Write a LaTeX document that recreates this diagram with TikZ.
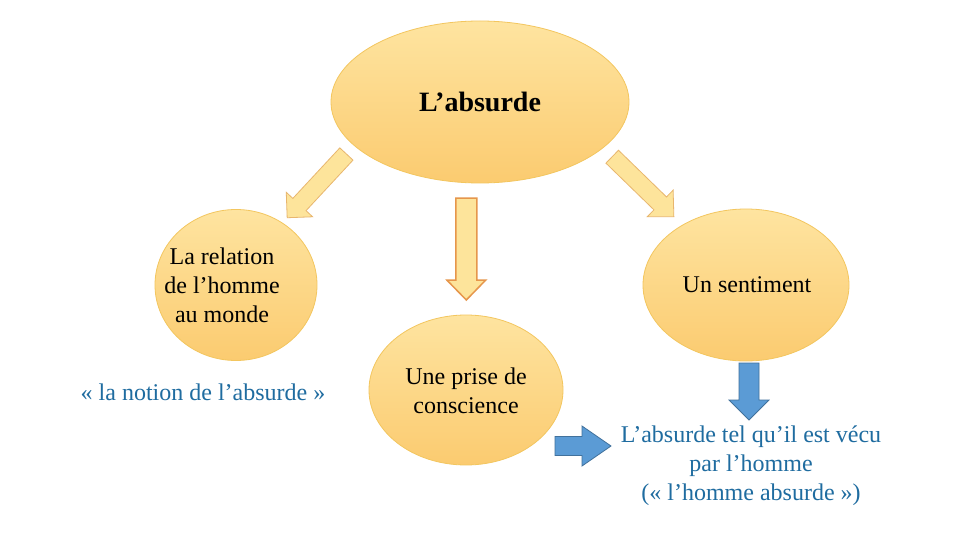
\documentclass[tikz,border=0pt]{standalone}
\usepackage{fontspec}
\setmainfont{Liberation Serif}
\usetikzlibrary{shapes.geometric}
\definecolor{elltop}{RGB}{254,228,160}
\definecolor{ellbot}{RGB}{251,203,112}
\definecolor{elledge}{RGB}{243,198,95}
\definecolor{arfill}{RGB}{253,228,155}
\definecolor{aredge}{RGB}{232,182,110}
\definecolor{midedge}{RGB}{230,150,75}
\definecolor{bluefill}{RGB}{91,155,213}
\definecolor{blueedge}{RGB}{65,113,156}
\definecolor{bluetext}{RGB}{31,108,160}
\newcommand\blkarrow[8]{%
  \draw[#1,shift={(#2,#3)},rotate=#4]
    (0,{-#6/2}) -- ({#5-#8},{-#6/2}) -- ({#5-#8},{-#7/2}) -- (#5,0)
    -- ({#5-#8},{#7/2}) -- ({#5-#8},{#6/2}) -- (0,{#6/2}) -- cycle;}
\begin{document}
\begin{tikzpicture}[x=1pt,y=-1pt,
  bubble/.style={ellipse, draw=elledge, line width=0.8pt, top color=elltop, bottom color=ellbot, inner sep=0pt},
  txt/.style={align=center, font=\fontsize{24}{29}\selectfont, text=black},
  bluetxt/.style={align=center, font=\fontsize{24}{29}\selectfont, text=bluetext},
  yarrow/.style={fill=arfill, draw=aredge, line width=0.8pt, line join=miter},
  marrow/.style={fill=arfill, draw=midedge, line width=1.5pt, line join=miter},
  barrow/.style={fill=bluefill, draw=blueedge, line width=0.8pt, line join=miter}]
\useasboundingbox (0,0) rectangle (960,540);
\fill[white] (0,0) rectangle (960,540);
% ellipses
\node[bubble, minimum width=298pt, minimum height=162pt] (top) at (480,102) {};
\node[bubble, minimum width=162pt, minimum height=151pt] (left) at (236,285) {};
\node[bubble, minimum width=206pt, minimum height=152pt] (right) at (746,285) {};
\node[bubble, minimum width=194pt, minimum height=150pt] (mid) at (466,390) {};
% texts
\node[txt, font=\fontsize{28}{32}\selectfont\bfseries] (ttop) at (480,102) {L’absurde};
\node[txt] (tleft) at (222,285.5) {La relation\\de l’homme\\au monde};
\node[txt] (tright) at (747,285) {Un sentiment};
\node[txt] (tmid) at (466,391) {Une prise de\\conscience};
\node[bluetxt] (tnotion) at (203,392) {« la notion de l’absurde »};
\node[bluetxt] (tvecu) at (751,466) {L’absurde tel qu’il est vécu\\par l’homme\\(« l’homme absurde »)};
% arrows
\blkarrow{yarrow}{346.4}{154}{-132.9}{87}{18}{36}{18}
\blkarrow{yarrow}{612.2}{156.7}{-44.2}{86}{18}{37}{19}
\blkarrow{marrow}{466.3}{198}{-90}{102}{21}{39}{20}
\blkarrow{barrow}{749}{363}{-90}{57}{20}{40}{20}
\blkarrow{barrow}{555}{446}{0}{56}{19}{40}{29}
\end{tikzpicture}
\end{document}
